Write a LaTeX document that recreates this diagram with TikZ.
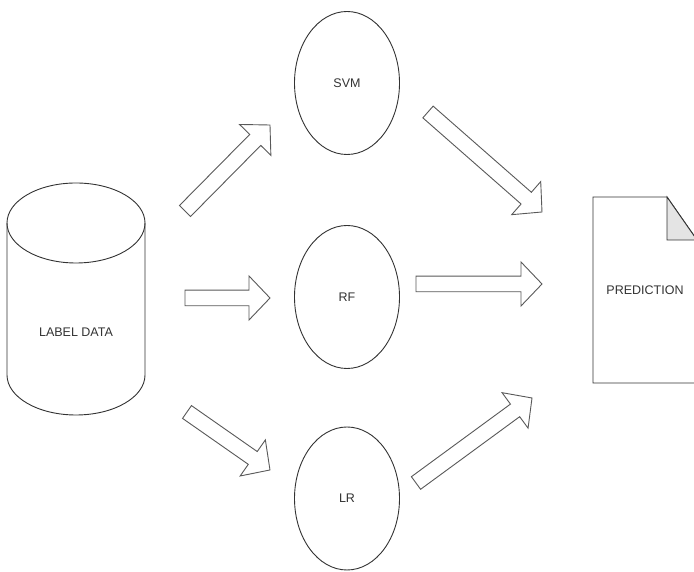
\documentclass[tikz,border=0pt]{standalone}
\usepackage{fontspec}
\setmainfont{Liberation Sans}
\usetikzlibrary{shapes.geometric}
\definecolor{foldgray}{HTML}{E4E4E4}
\newcommand{\shaft}{7.8}
\newcommand{\wing}{22}
\newcommand{\head}{21}
\newcommand{\blockarrow}[2]{%
% tail coordinate, tip coordinate
  \pgfpointdiff{\pgfpointanchor{#1}{center}}{\pgfpointanchor{#2}{center}}
  \pgfgetlastxy{\arrdx}{\arrdy}
  \pgfmathsetmacro{\arrang}{atan2(\arrdy,\arrdx)}
  \pgfmathsetmacro{\arrlen}{veclen(\arrdx,\arrdy)}
  \filldraw[fatarrow, shift={(#1)}, rotate=\arrang]
    (0,-\shaft) -- (\arrlen-\head,-\shaft) -- (\arrlen-\head,-\wing) -- (\arrlen,0)
    -- (\arrlen-\head,\wing) -- (\arrlen-\head,\shaft) -- (0,\shaft) -- cycle;
}
\tikzset{
  shapeline/.style={draw=black!80, line width=0.9pt},
  fatarrow/.style={fill=white, draw=black!65, line width=0.9pt, line join=miter},
  model/.style={ellipse, shapeline, minimum width=105, minimum height=143, inner sep=0pt},
  every node/.append style={font=\fontsize{12.5}{14}\selectfont, text=black!80}
}
\begin{document}
\begin{tikzpicture}[x=1pt,y=1pt]
  \useasboundingbox[fill=white] (0,0) rectangle (694,572);
  % label data cylinder
  \draw[shapeline, fill=white] (7,349) -- (7,197) arc[start angle=180, end angle=360, x radius=69, y radius=40] -- (145,349);
  \draw[shapeline] (76,349) ellipse[x radius=69, y radius=40];
  \node (data) at (76,240) {LABEL DATA};
  % models
  \node[model] (svm) at (347,489) {SVM};
  \node[model] (rf) at (347,275) {RF};
  \node[model] (lr) at (347,73.5) {LR};
  % prediction document
  \draw[shapeline, fill=white] (593,375) -- (667,375) -- (697,332) -- (697,189) -- (593,189) -- cycle;
  \filldraw[shapeline, fill=foldgray] (667,375) -- (667,332) -- (697,332) -- cycle;
  \node (pred) at (645,282) {PREDICTION};
  % arrow ends
  \coordinate (svmstart) at (185,361);    \coordinate (svmend) at (270,447);
  \coordinate (rfstart) at (185,274);     \coordinate (rfend) at (270,274);
  \coordinate (lrstart) at (187,160);     \coordinate (lrend) at (270,102);
  \coordinate (svmoutstart) at (428,460); \coordinate (svmoutend) at (542,360);
  \coordinate (rfoutstart) at (416,288);  \coordinate (rfoutend) at (542,288);
  \coordinate (lroutstart) at (416,89);   \coordinate (lroutend) at (532,174);
  \foreach \s/\e in {svmstart/svmend, rfstart/rfend, lrstart/lrend,
                     svmoutstart/svmoutend, rfoutstart/rfoutend, lroutstart/lroutend} {
    \blockarrow{\s}{\e}
  }
\end{tikzpicture}
\end{document}
